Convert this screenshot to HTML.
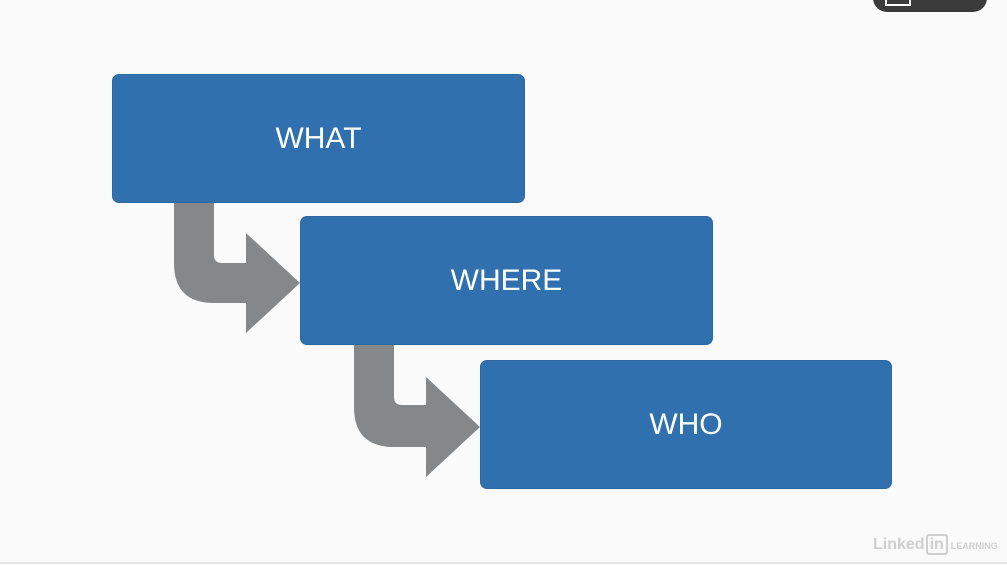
<!DOCTYPE html>
<html><head><style>
body{margin:0;width:1007px;height:565px;background:#fafafa;position:relative;overflow:hidden;font-family:"Liberation Sans",sans-serif}
.b{position:absolute;background:#3170ae;border-radius:7px;border:1px solid #2c67a3;box-sizing:border-box;color:#fff;font-size:30px;display:flex;align-items:center;justify-content:center}
</style></head><body>
<div style="position:absolute;left:873px;top:-20px;width:114px;height:32px;background:#3b3b3b;border-radius:14px"></div>
<div style="position:absolute;left:885px;top:0;width:22px;height:4px;border:2px solid #fff;border-top:none"></div>
<svg width="1007" height="565" style="position:absolute;left:0;top:0">
<g fill="#868788">
<path d="M174 200 H214 V255 Q214 263 222 263 H246 V233 L300 283 L246 333 V303 H214 Q174 303 174 263 Z"/>
<path d="M354 342 H394 V397 Q394 405 402 405 H426 V377 L480 427 L426 477 V447 H394 Q354 447 354 407 Z"/>
</g>
<line x1="0" y1="563" x2="1007" y2="563" stroke="#e6e6e6" stroke-width="2"/>
</svg>
<div class="b" style="left:112px;top:74px;width:413px;height:129px">WHAT</div>
<div class="b" style="left:300px;top:216px;width:413px;height:129px">WHERE</div>
<div class="b" style="left:480px;top:360px;width:412px;height:129px">WHO</div>
<div style="position:absolute;left:873px;top:536px;font-size:16px;font-weight:bold;color:#cfcfcf;white-space:nowrap;line-height:18px">Linked<span style="border:2px solid #cfcfcf;border-radius:3px;padding:0 2px;margin-left:1px">in</span><span style="font-size:9px;margin-left:3px">LEARNING</span></div>
</body></html>
